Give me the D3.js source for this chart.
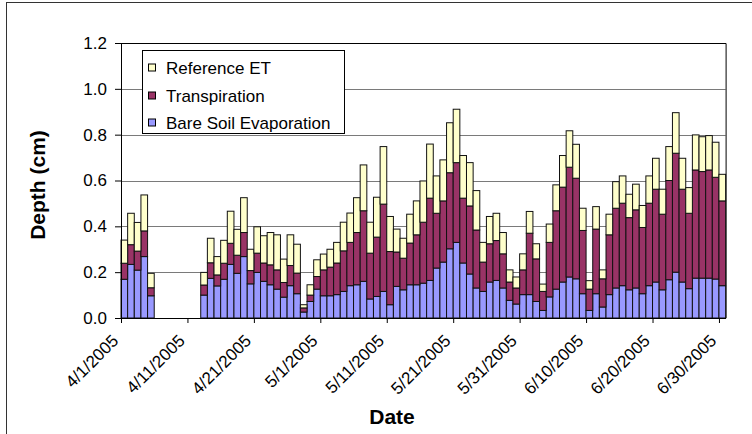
<!DOCTYPE html>
<html>
<head>
<meta charset="utf-8">
<script src="https://cdn.jsdelivr.net/npm/d3@7"></script>
<style>
  html, body { margin: 0; padding: 0; background: #fff; }
  svg { display: block; }
  text { font-family: "Liberation Sans", Arial, sans-serif; fill: #000; }
</style>
</head>
<body>
<svg id="chart" width="752" height="434"></svg>
<script>
// Daily water depths (cm), 4/1/2005 – 6/30/2005, one value per day.
const startDate = "2005-04-01";
const dayCount = 91;

// Segment heights of each stacked column
const bareSoilEvaporation = [
  0.169,0.234,0.209,0.268,0.097,0,0,0,0,0,0,0,0.100,0.173,0.140,0.169,0.234,0.195,0.268,0.149,
  0.199,0.160,0.145,0.126,0.091,0.141,0.106,0.026,0.072,0.126,0.097,0.097,0.102,0.116,0.141,0.145,0.160,0.083,0.094,0.116,
  0.058,0.138,0.123,0.145,0.145,0.152,0.164,0.218,0.244,0.302,0.330,0.240,0.192,0.131,0.116,0.157,0.164,0.131,0.077,0.061,
  0.102,0.102,0.072,0.033,0.092,0.126,0.157,0.179,0.171,0.106,0.033,0.106,0.048,0.102,0.131,0.141,0.123,0.131,0.106,0.141,
  0.157,0.123,0.167,0.200,0.157,0.128,0.174,0.174,0.174,0.170,0.141
];
const transpiration = [
  0.070,0.086,0.083,0.112,0.035,0,0,0,0,0,0,0,0.044,0.068,0.048,0.070,0.092,0.079,0.105,0.058,
  0.084,0.080,0.087,0.084,0.064,0.088,0.090,0.018,0.028,0.055,0.113,0.125,0.138,0.177,0.189,0.228,0.308,0.200,0.259,0.381,
  0.232,0.150,0.138,0.182,0.218,0.266,0.359,0.239,0.267,0.332,0.348,0.283,0.297,0.253,0.128,0.167,0.174,0.149,0.080,0.070,
  0.108,0.268,0.186,0.083,0.238,0.342,0.414,0.479,0.439,0.276,0.093,0.282,0.123,0.261,0.348,0.360,0.315,0.341,0.289,0.360,
  0.405,0.330,0.433,0.519,0.405,0.329,0.472,0.465,0.472,0.444,0.370
];
const referenceET = [
  0.101,0.137,0.125,0.157,0.063,0,0,0,0,0,0,0,0.055,0.107,0.080,0.100,0.140,0.113,0.152,0.093,
  0.115,0.119,0.141,0.153,0.102,0.134,0.126,0.014,0.045,0.073,0.069,0.078,0.090,0.125,0.128,0.152,0.200,0.135,0.174,0.251,
  0.153,0.100,0.087,0.126,0.148,0.180,0.236,0.163,0.179,0.218,0.233,0.186,0.189,0.172,0.086,0.119,0.119,0.093,0.053,0.048,
  0.070,0.095,0.066,0.032,0.080,0.113,0.138,0.159,0.148,0.097,0.037,0.098,0.039,0.090,0.116,0.119,0.102,0.112,0.096,0.119,
  0.135,0.109,0.148,0.177,0.135,0.112,0.153,0.152,0.150,0.153,0.116
];

const seriesNames = ["Bare Soil Evaporation", "Transpiration", "Reference ET"];
const seriesColors = ["#9999FF", "#993366", "#FFFFCC"];
const yTicks = [0, 0.2, 0.4, 0.6, 0.8, 1.0, 1.2];
const xTickLabels = ["4/1/2005","4/11/2005","4/21/2005","5/1/2005","5/11/2005",
                     "5/21/2005","5/31/2005","6/10/2005","6/20/2005","6/30/2005"];

const parseDate = d3.timeParse("%Y-%m-%d");
const parseTick = d3.timeParse("%m/%d/%Y");
const day0 = parseDate(startDate);
const dates = d3.range(dayCount).map(i => d3.timeDay.offset(day0, i));

const rows = dates.map((d, i) => ({
  date: d,
  "Bare Soil Evaporation": bareSoilEvaporation[i],
  "Transpiration": transpiration[i],
  "Reference ET": referenceET[i]
}));

const svg = d3.select("#chart");

// outer chart frame
svg.append("rect")
  .attr("x", 6.5).attr("y", 2.5).attr("width", 780).attr("height", 460)
  .attr("fill", "#fff").attr("stroke", "#333").attr("stroke-width", 1);

const plot = { left: 121, right: 725.6, top: 43, bottom: 318 };

const x = d3.scaleTime()
  .domain([day0, d3.timeDay.offset(day0, dayCount)])
  .range([plot.left, plot.right]);
const y = d3.scaleLinear().domain([0, 1.2]).range([plot.bottom, plot.top]);

// horizontal gridlines
svg.append("g")
  .selectAll("line")
  .data(yTicks.filter(v => v > 0 && v < 1.2))
  .join("line")
  .attr("x1", plot.left).attr("x2", plot.right)
  .attr("y1", d => Math.round(y(d)) + 0.5).attr("y2", d => Math.round(y(d)) + 0.5)
  .attr("stroke", "#7a7a7a").attr("stroke-width", 1);

// plot frame (top and right)
svg.append("path")
  .attr("d", `M${plot.left},${plot.top + 0.5}H${plot.right + 0.5}V${plot.bottom}`)
  .attr("fill", "none").attr("stroke", "#000").attr("stroke-width", 1);

// stacked columns
const stacked = d3.stack().keys(seriesNames)(rows);
svg.append("g")
  .selectAll("g")
  .data(stacked)
  .join("g")
  .attr("fill", (s, k) => seriesColors[k])
  .selectAll("rect")
  .data(s => s.filter(p => p[1] - p[0] > 0))
  .join("rect")
  .attr("x", p => x(p.data.date))
  .attr("width", p => x(d3.timeDay.offset(p.data.date, 1)) - x(p.data.date))
  .attr("y", p => y(p[1]))
  .attr("height", p => y(p[0]) - y(p[1]))
  .attr("stroke", "#111").attr("stroke-width", 1);

// y axis
const yAxis = svg.append("g")
  .attr("transform", `translate(${plot.left},0)`)
  .call(d3.axisLeft(y).tickValues(yTicks).tickFormat(d3.format(".1f"))
    .tickSizeInner(6).tickSizeOuter(0).tickPadding(8));
yAxis.selectAll("text").style("font-size", "17px");
yAxis.selectAll("line, path").attr("stroke", "#000");

// x axis
const xAxis = svg.append("g")
  .attr("transform", `translate(0,${plot.bottom})`)
  .call(d3.axisBottom(x).tickValues(xTickLabels.map(parseTick))
    .tickFormat(d3.timeFormat("%-m/%-d/%Y")).tickSizeInner(5).tickSizeOuter(0));
xAxis.selectAll("line, path").attr("stroke", "#000");
xAxis.selectAll("text")
  .style("font-size", "17px")
  .attr("text-anchor", "end")
  .attr("dy", null)
  .attr("y", null)
  .attr("dominant-baseline", "central")
  .attr("transform", "translate(-6,20) rotate(-45)");

// axis titles
svg.append("text")
  .attr("transform", "translate(37,185) rotate(-90)")
  .attr("text-anchor", "middle").attr("dominant-baseline", "central")
  .style("font-size", "21px").style("font-weight", "bold")
  .text("Depth (cm)");
svg.append("text")
  .attr("x", 392).attr("y", 424)
  .attr("text-anchor", "middle")
  .style("font-size", "21px").style("font-weight", "bold")
  .text("Date");

// legend (drawn top to bottom in reverse stacking order)
const legend = svg.append("g");
legend.append("rect")
  .attr("x", 142.5).attr("y", 50.5).attr("width", 202).attr("height", 83)
  .attr("fill", "#fff").attr("stroke", "#000");
const legendRows = [2, 1, 0];
const rowY = [67.5, 95.5, 122.5];
legendRows.forEach((k, r) => {
  legend.append("rect")
    .attr("x", 148.5).attr("y", rowY[r] - 3.5).attr("width", 7).attr("height", 7)
    .attr("fill", seriesColors[k]).attr("stroke", "#000");
  legend.append("text")
    .attr("x", 166).attr("y", rowY[r] + 6)
    .style("font-size", "17px")
    .text(seriesNames[k]);
});
</script>
</body>
</html>
